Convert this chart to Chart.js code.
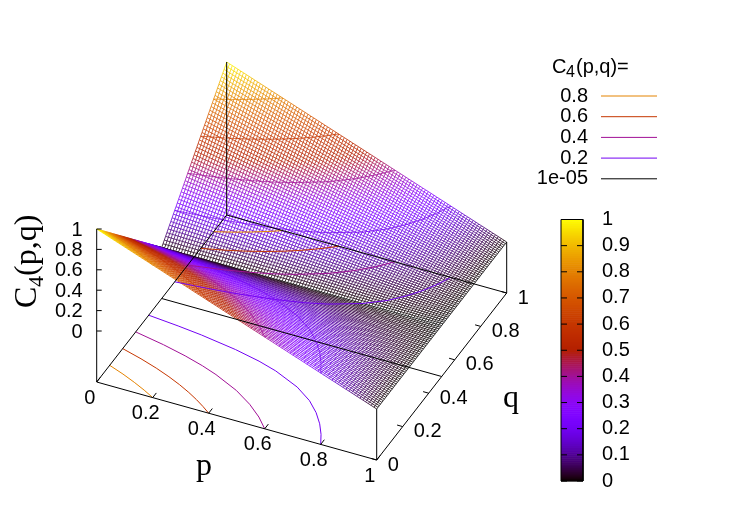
<!DOCTYPE html>
<html>
<head>
<meta charset="utf-8">
<title>C4(p,q)</title>
<script src="https://cdn.jsdelivr.net/npm/chart.js@4"></script>
<style>
    html, body { margin: 0; padding: 0; background: #fff; }
    canvas { display: block; }
</style>
</head>
<body>
<canvas id="surfaceChart" width="747" height="523"></canvas>
<script>
// surface height read along the edge q=0, one value per mesh line in p
var heightAlongP = [1, .99, .98, .97, .96, .95, .94, .93, .92, .91, .9, .89, .88, .87, .86, .85, .84, .83, .82, .81,
    .8, .79, .78, .77, .76, .75, .74, .73, .72, .71, .7, .69, .68, .67, .66, .65, .64, .63, .62, .61,
    .6, .59, .58, .57, .56, .55, .54, .53, .52, .51, .5, .49, .48, .47, .46, .45, .44, .43, .42, .41,
    .4, .39, .38, .37, .36, .35, .34, .33, .32, .31, .3, .29, .28, .27, .26, .25, .24, .23, .22, .21,
    .2, .19, .18, .17, .16, .15, .14, .13, .12, .11, .1, .09, .08, .07, .06, .05, .04, .03, .02, .01, 0];
// surface height read along the edge p=0, one value per mesh line in q
var heightAlongQ = [1, .98, .96, .94, .92, .9, .88, .86, .84, .82, .8, .78, .76, .74, .72, .7, .68, .66, .64, .62,
    .6, .58, .56, .54, .52, .5, .48, .46, .44, .42, .4, .38, .36, .34, .32, .3, .28, .26, .24, .22,
    .2, .18, .16, .14, .12, .1, .08, .06, .04, .02, 0, .02, .04, .06, .08, .1, .12, .14, .16, .18,
    .2, .22, .24, .26, .28, .3, .32, .34, .36, .38, .4, .42, .44, .46, .48, .5, .52, .54, .56, .58,
    .6, .62, .64, .66, .68, .7, .72, .74, .76, .78, .8, .82, .84, .86, .88, .9, .92, .94, .96, .98, 1];

// contour lines, front half (q < 0.5). the back half is the same lines mirrored
var contourLevels = [0.8, 0.6, 0.4, 0.2];
var contourQ = [
    [0, .025, .05, .075, .1],
    [0, .025, .05, .075, .1, .125, .15, .175, .2],
    [0, .05, .1, .15, .2, .225, .25, .275, .3],
    [0, .05, .1, .15, .2, .25, .3, .325, .35, .375, .3875, .4]
];
var contourP = [
    [.2, .158, .111, .059, 0],
    [.4, .368, .333, .294, .25, .2, .143, .077, 0],
    [.6, .556, .5, .429, .333, .273, .2, .111, 0],
    [.8, .778, .75, .714, .667, .6, .5, .429, .333, .2, .111, 0]
];

var pTicks = [0, 0.2, 0.4, 0.6, 0.8, 1];
var qTicks = [0, 0.2, 0.4, 0.6, 0.8, 1];
var zTicks = [0, 0.2, 0.4, 0.6, 0.8, 1];
var colorbarTicks = [0, 0.1, 0.2, 0.3, 0.4, 0.5, 0.6, 0.7, 0.8, 0.9, 1];
var legendLabels = ['0.8', '0.6', '0.4', '0.2', '1e-05'];
var legendLevels = [0.8, 0.6, 0.4, 0.2, 0.00001];

// view of the box on the canvas
function project(p, q, z) {
    var x = 96.7 + 280 * p + 130 * q;
    var y = 382 + 78 * p - 167 * q;
    if (z !== null) {
        y = y - 51 - 102 * z;
    }
    return { x: x, y: y };
}

// gnuplot default pm3d palette
function palette(v) {
    var r = Math.sqrt(v);
    var g = v * v * v;
    var b = Math.max(0, Math.sin(2 * Math.PI * v));
    return 'rgb(' + Math.round(r * 255) + ',' + Math.round(g * 255) + ',' + Math.round(b * 255) + ')';
}

var datasets = [];

function addLine(points, color, width) {
    datasets.push({
        data: points,
        showLine: true,
        borderColor: color,
        borderWidth: width,
        pointRadius: 0,
        fill: false,
        tension: 0
    });
}

function addMeshLine(points, heights) {
    datasets.push({
        data: points,
        showLine: true,
        borderColor: '#000',
        borderWidth: 0.8,
        pointRadius: 0,
        fill: false,
        tension: 0,
        segment: {
            borderColor: function (ctx) {
                return palette((heights[ctx.p0DataIndex] + heights[ctx.p1DataIndex]) / 2);
            }
        }
    });
}

// box and ticks go first so they end up on top
addLine([project(0, 0, null), project(1, 0, null), project(1, 1, null), project(0, 1, null), project(0, 0, null)], '#000', 1);
addLine([project(0, 0, null), project(0, 0, 1)], '#000', 1);
addLine([project(1, 0, null), project(1, 0, 0)], '#000', 1);
addLine([project(1, 1, null), project(1, 1, 0)], '#000', 1);
addLine([project(0, 1, null), project(0, 1, 1)], '#000', 1);
pTicks.forEach(function (p) {
    addLine([project(p, 0, null), project(p, 0.028, null)], '#000', 1);
});
qTicks.forEach(function (q) {
    addLine([project(1, q, null), project(0.98, q, null)], '#000', 1);
});
zTicks.forEach(function (z) {
    var a = project(0, 0, z);
    addLine([a, { x: a.x + 5, y: a.y }], '#000', 1);
});

// contours on the base and on the surface
contourLevels.forEach(function (level, k) {
    var front = [], back = [], frontTop = [], backTop = [];
    contourP[k].forEach(function (p, i) {
        var q = contourQ[k][i];
        front.push(project(p, q, null));
        back.push(project(p, 1 - q, null));
        frontTop.push(project(p, q, level));
        backTop.push(project(p, 1 - q, level));
    });
    addLine(front, palette(level), 1);
    addLine(back, palette(level), 1);
    addLine(frontTop, palette(level), 0.7);
    addLine(backTop, palette(level), 0.7);
});
addLine([project(0, 0.5, null), project(1, 0.5, null)], '#000', 1);

// mesh, front to back
var nP = heightAlongP.length;
var nQ = heightAlongQ.length;
var i, j;
for (j = 0; j < nQ; j++) {
    var rowPts = [], rowZ = [];
    for (i = 0; i < nP; i++) {
        rowZ.push(heightAlongP[i] * heightAlongQ[j]);
        rowPts.push(project(i / (nP - 1), j / (nQ - 1), rowZ[i]));
    }
    addMeshLine(rowPts, rowZ);
}
for (i = 0; i < nP; i++) {
    var colPts = [], colZ = [];
    for (j = 0; j < nQ; j++) {
        colZ.push(heightAlongP[i] * heightAlongQ[j]);
        colPts.push(project(i / (nP - 1), j / (nQ - 1), colZ[j]));
    }
    addMeshLine(colPts, colZ);
}

// key samples
legendLevels.forEach(function (level, k) {
    var y = 96 + k * 20.7;
    addLine([{ x: 601, y: y }, { x: 657, y: y }], palette(level), 1);
});

// colour box
var cbLeft = 561, cbRight = 583, cbTop = 219.5, cbBottom = 481;
addLine([{ x: cbLeft, y: cbTop }, { x: cbRight, y: cbTop }, { x: cbRight, y: cbBottom }, { x: cbLeft, y: cbBottom }, { x: cbLeft, y: cbTop }], '#000', 1);
colorbarTicks.forEach(function (v) {
    var y = cbBottom - v * (cbBottom - cbTop);
    addLine([{ x: cbLeft, y: y }, { x: cbLeft + 6, y: y }], '#000', 1);
    addLine([{ x: cbRight - 6, y: y }, { x: cbRight, y: y }], '#000', 1);
});
var cbSteps = 128;
for (i = 0; i < cbSteps; i++) {
    var v = (i + 0.5) / cbSteps;
    var yy = cbBottom - v * (cbBottom - cbTop);
    addLine([{ x: cbLeft, y: yy }, { x: cbRight, y: yy }], palette(v), (cbBottom - cbTop) / cbSteps + 0.6);
}

var sansFont = '20px "Liberation Sans"';
var serifFont = '32px "Liberation Serif"';

function putText(c, text, x, y, align, font) {
    c.font = font;
    c.textAlign = align;
    c.textBaseline = 'middle';
    c.fillStyle = '#000';
    c.fillText(text, x, y);
}

var textPlugin = {
    id: 'axisText',
    afterDraw: function (chart) {
        var c = chart.ctx;
        c.save();
        pTicks.forEach(function (p) {
            var a = project(p, 0, null);
            putText(c, String(p), a.x - 7, a.y + 16, 'center', sansFont);
        });
        qTicks.forEach(function (q) {
            var a = project(1, q, null);
            putText(c, String(q), a.x + 11, a.y + 5, 'left', sansFont);
        });
        zTicks.forEach(function (z) {
            var a = project(0, 0, z);
            putText(c, String(z), a.x - 14, a.y + 1, 'right', sansFont);
        });
        colorbarTicks.forEach(function (v) {
            var y = cbBottom - v * (cbBottom - cbTop);
            putText(c, String(v), 602, y, 'left', sansFont);
        });
        legendLabels.forEach(function (label, k) {
            putText(c, label, 588, 96 + k * 20.7, 'right', sansFont);
        });

        // key title
        putText(c, 'C', 552, 67, 'left', sansFont);
        putText(c, '4', 566, 73, 'left', '16px "Liberation Sans"');
        putText(c, '(p,q)=', 576, 67, 'left', sansFont);

        // axis titles
        putText(c, 'p', 204, 467, 'center', serifFont);
        putText(c, 'q', 511, 399, 'center', serifFont);
        c.translate(36, 308);
        c.rotate(-Math.PI / 2);
        c.textBaseline = 'alphabetic';
        c.textAlign = 'left';
        c.font = serifFont;
        c.fillText('C', 0, 0);
        c.font = '22px "Liberation Serif"';
        c.fillText('4', 21, 7);
        c.font = serifFont;
        c.fillText('(p,q)', 32, 0);
        c.restore();
    }
};

var surfaceChart = new Chart(document.getElementById('surfaceChart'), {
    type: 'scatter',
    data: { datasets: datasets },
    options: {
        responsive: false,
        animation: false,
        layout: { padding: 0 },
        clip: false,
        events: [],
        scales: {
            x: { type: 'linear', min: 0, max: 747, display: false },
            y: { type: 'linear', min: 0, max: 523, reverse: true, display: false }
        },
        plugins: {
            legend: { display: false },
            tooltip: { enabled: false }
        }
    },
    plugins: [textPlugin]
});
</script>
</body>
</html>
